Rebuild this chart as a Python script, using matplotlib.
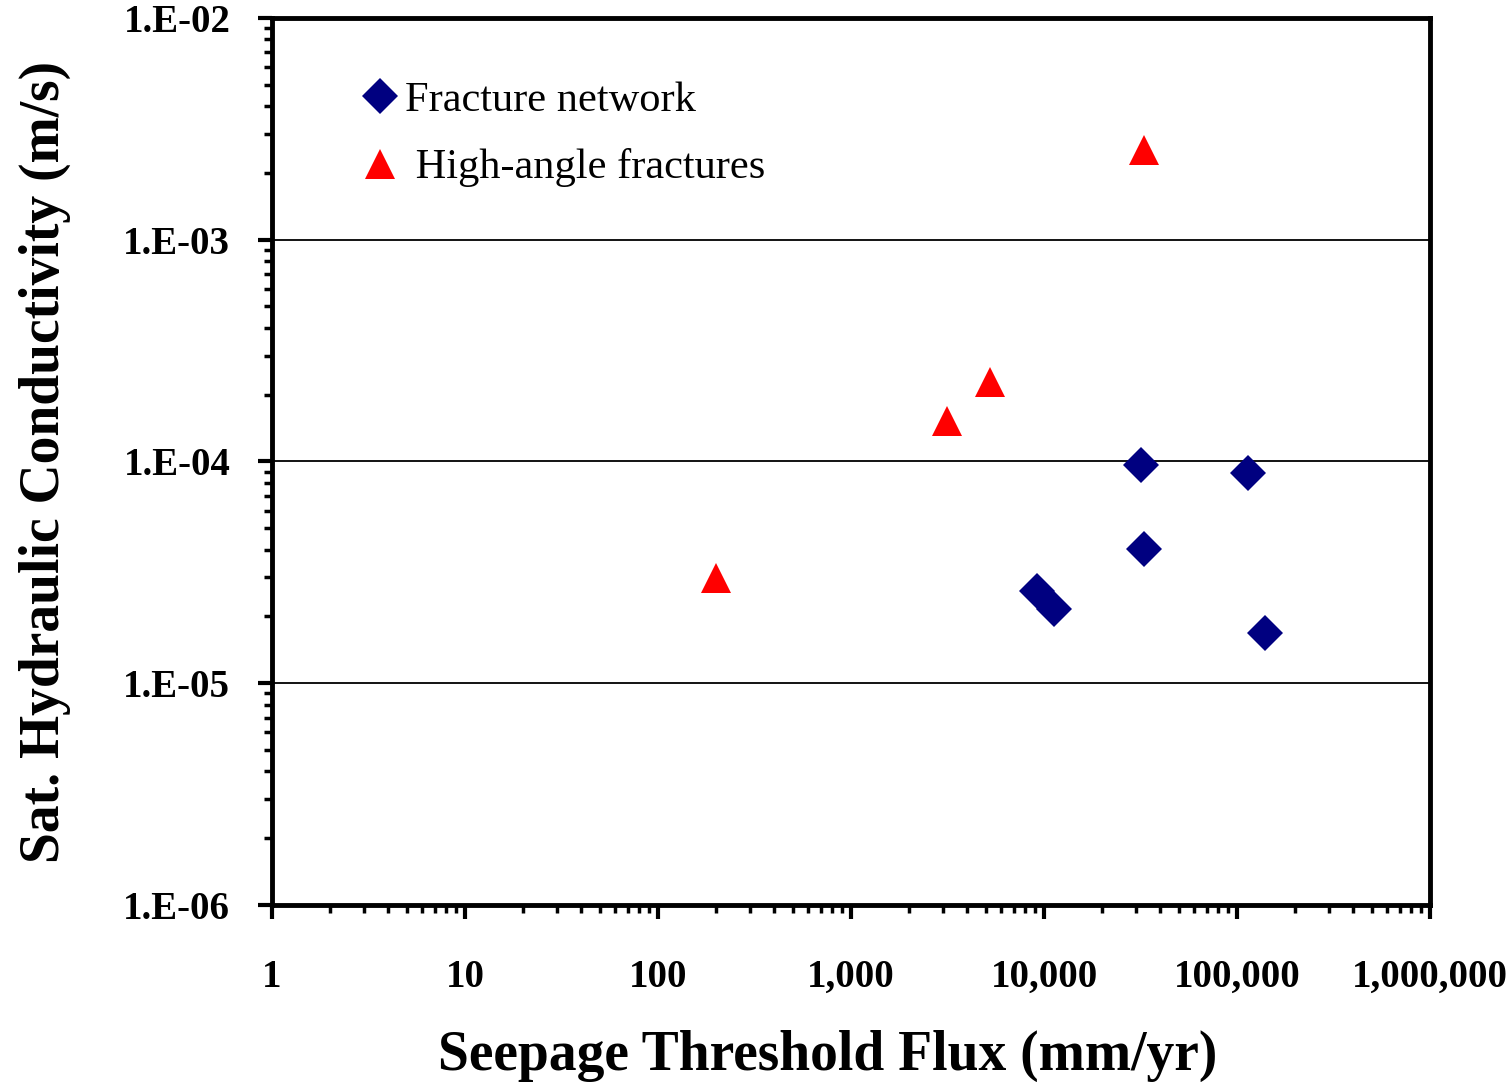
import numpy as np
import matplotlib
matplotlib.use("Agg")
import matplotlib.pyplot as plt
from matplotlib.ticker import LogLocator, FuncFormatter, NullFormatter

plt.rcParams['font.family'] = ['Liberation Serif', 'DejaVu Serif']

# data
net_flux = [31800, 113600, 32850, 9170, 11230, 139200]
net_k = [9.64e-5, 8.90e-5, 4.04e-5, 2.61e-5, 2.17e-5, 1.69e-5]

high_flux = [32960, 5250, 3133, 199]
high_k = [2.54e-3, 2.28e-4, 1.52e-4, 2.98e-5]

fig = plt.figure(figsize=(15.12, 10.82), dpi=100)
ax = fig.add_axes([0.1799, 0.1636, 0.9458 - 0.1799, 0.9834 - 0.1636])

ax.set_xscale('log')
ax.set_yscale('log')
ax.set_xlim(1, 1e6)
ax.set_ylim(1e-6, 1e-2)

ax.yaxis.grid(True, which='major', color='black', linewidth=1.3)
ax.set_axisbelow(True)

ax.plot(net_flux, net_k, linestyle='none', marker='D', markersize=18,
        color='#000080', markeredgewidth=0, label='Fracture network', zorder=3)
ax.plot(high_flux, high_k, linestyle='none', marker='^', markersize=21,
        color='#ff0000', markeredgewidth=0, label=' High-angle fractures', zorder=3)

for s in ax.spines.values():
    s.set_linewidth(3.5)

ax.xaxis.set_major_locator(LogLocator(base=10, numticks=10))
ax.xaxis.set_minor_locator(LogLocator(base=10, subs=np.arange(2, 10), numticks=20))
ax.yaxis.set_major_locator(LogLocator(base=10, numticks=10))
ax.yaxis.set_minor_locator(LogLocator(base=10, subs=np.arange(2, 10), numticks=20))
ax.xaxis.set_minor_formatter(NullFormatter())
ax.yaxis.set_minor_formatter(NullFormatter())

ax.xaxis.set_major_formatter(FuncFormatter(lambda v, p: '{:,}'.format(int(round(v)))))
ax.yaxis.set_major_formatter(FuncFormatter(lambda v, p: '1.E{:03d}'.format(int(round(np.log10(v))))))

ax.tick_params(which='major', direction='out', length=10, width=3)
ax.tick_params(which='minor', direction='out', length=6, width=2.5)
ax.tick_params(axis='x', which='major', pad=29, labelsize=28)
ax.tick_params(axis='y', which='major', pad=20, labelsize=28)
for lab in ax.get_xticklabels() + ax.get_yticklabels():
    lab.set_fontweight('bold')

ax.set_xlabel('Seepage Threshold Flux (mm/yr)', fontsize=40, fontweight='bold')
ax.set_ylabel('Sat. Hydraulic Conductivity (m/s)', fontsize=40, fontweight='bold')
ax.xaxis.set_label_coords(0.48, -0.141)
ax.yaxis.set_label_coords(-0.174, 0.5)

ax.legend(loc='upper left', bbox_to_anchor=(0.060, 0.948), frameon=False, fontsize=30.5,
          handletextpad=0.1, labelspacing=0.68, handlelength=1.0, borderaxespad=0)

fig.savefig('out.png', dpi=100)
